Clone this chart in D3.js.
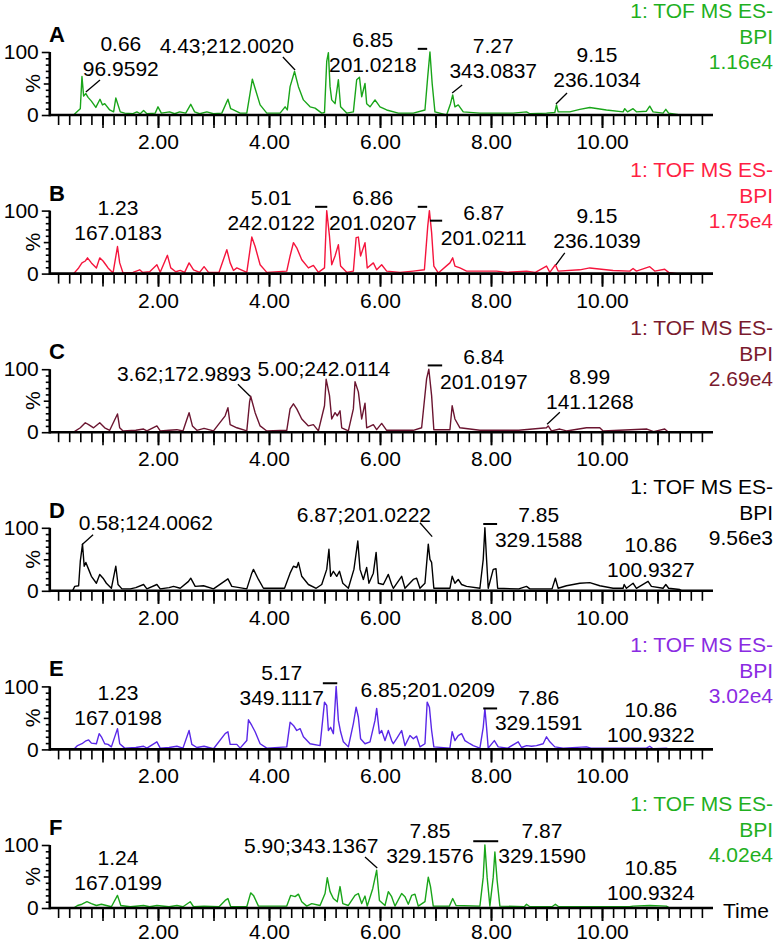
<!DOCTYPE html>
<html><head><meta charset="utf-8">
<script src="https://cdn.jsdelivr.net/npm/d3@7"></script>
<style>
body{margin:0;background:#fff}
svg{display:block}
text{font-family:"Liberation Sans",Arial,Helvetica,sans-serif}
</style>
</head><body>
<svg id="chart" width="783" height="944"></svg>
<script>
// ---------- data ----------
const panelIds = ["A","B","C","D","E","F"];
const intensities = ["1.16e4","1.75e4","2.69e4","9.56e3","3.02e4","4.02e4"];
const lineColors = ["#19a519","#f5143c","#6b1530","#000000","#5a28e8","#19a519"];
const titleColors = ["#1fb01f","#ff1f44","#7a1a2e","#000000","#8a2be2","#1fb01f"];
const titleLines = ["1: TOF MS ES-","BPI"];
const xTickLabels = [2,4,6,8,10];
const yTickLabels = [0,100];

const traceA = [[0.05,0],[0.48,0],[0.55,6],[0.6,10],[0.63,61],[0.66,30],[0.70,34],[0.74,28],[0.8,22],[0.88,12],[0.955,25],[1.0,16],[1.04,18],[1.13,8],[1.2,5],[1.24,27],[1.32,5],[1.4,3],[1.55,2],[1.62,5],[1.68,2],[1.74,7],[1.8,2],[1.95,3],[2.0,13],[2.06,3],[2.21,5],[2.3,2],[2.39,5],[2.5,3],[2.59,17],[2.66,5],[2.75,2],[2.88,5],[3.0,2],[3.15,3],[3.26,25],[3.31,10],[3.36,8],[3.48,3],[3.6,3],[3.66,35],[3.70,57],[3.75,42],[3.84,16],[3.96,3],[4.2,3],[4.29,13],[4.33,8],[4.38,45],[4.46,69],[4.53,45],[4.62,24],[4.74,13],[4.83,11],[4.95,3],[5.0,4],[5.04,85],[5.07,99],[5.1,45],[5.13,24],[5.19,18],[5.25,56],[5.29,13],[5.4,3],[5.52,5],[5.58,56],[5.63,60],[5.67,29],[5.73,50],[5.76,18],[5.82,13],[5.91,24],[6.0,13],[6.12,8],[6.33,3],[6.6,3],[6.81,8],[6.86,61],[6.9,100],[6.94,50],[6.99,5],[7.2,0],[7.27,18],[7.31,32],[7.35,13],[7.41,16],[7.50,5],[7.8,3],[8.4,3],[8.64,5],[8.7,2],[9.0,3],[9.15,4],[9.18,16],[9.21,5],[9.42,5],[9.6,9],[9.78,12],[10.08,8],[10.38,5],[10.41,10],[10.46,5],[10.56,10],[10.62,5],[10.8,6],[10.86,14],[10.92,5],[11.1,3],[11.15,9],[11.2,3],[11.35,1],[11.4,0],[11.8,0]];
const traceB = [[0.05,0],[0.48,0],[0.57,9],[0.63,17],[0.69,20],[0.73,25],[0.8,17],[0.89,9],[0.95,25],[1.01,20],[1.06,14],[1.1,9],[1.19,1],[1.27,43],[1.31,17],[1.37,1],[1.55,2],[1.67,6],[1.72,2],[1.85,3],[1.98,14],[2.04,2],[2.17,29],[2.23,9],[2.32,3],[2.4,5],[2.48,2],[2.56,17],[2.64,6],[2.75,2],[2.83,11],[2.91,2],[3.1,2],[3.24,38],[3.30,17],[3.36,5],[3.42,9],[3.6,2],[3.65,33],[3.69,58],[3.75,43],[3.84,14],[3.96,2],[4.32,4],[4.38,28],[4.44,49],[4.5,41],[4.59,22],[4.71,9],[4.8,13],[4.89,2],[5.0,9],[5.04,100],[5.09,59],[5.13,14],[5.19,28],[5.25,46],[5.29,12],[5.4,2],[5.52,4],[5.57,57],[5.61,58],[5.65,28],[5.73,49],[5.77,9],[5.88,17],[5.94,6],[6.03,14],[6.12,4],[6.36,2],[6.6,4],[6.8,6],[6.86,75],[6.89,100],[6.93,65],[6.97,12],[7.05,1],[7.26,17],[7.31,25],[7.35,12],[7.44,9],[7.56,4],[8.1,4],[8.3,2],[8.64,4],[8.8,2],[9.0,12],[9.06,2],[9.16,14],[9.21,4],[9.6,6],[9.78,9],[10.2,5],[10.5,4],[10.56,8],[10.62,4],[10.86,11],[10.95,4],[11.13,7],[11.2,2],[11.35,0],[11.8,0]];
const traceC = [[0.05,0],[0.48,0],[0.6,7],[0.69,15],[0.75,12],[0.84,7],[0.95,15],[1.04,7],[1.13,3],[1.27,29],[1.31,7],[1.37,2],[1.6,3],[1.74,5],[1.8,2],[1.98,10],[2.04,2],[2.2,3],[2.34,4],[2.45,2],[2.56,31],[2.62,10],[2.7,3],[2.83,6],[3.0,2],[3.21,26],[3.26,39],[3.30,12],[3.42,7],[3.6,2],[3.65,48],[3.67,57],[3.75,31],[3.84,10],[3.96,2],[4.32,3],[4.38,37],[4.44,45],[4.5,37],[4.59,21],[4.71,10],[4.8,12],[4.89,2],[5.0,42],[5.03,84],[5.09,58],[5.13,21],[5.19,31],[5.23,26],[5.28,34],[5.31,7],[5.43,2],[5.52,37],[5.55,80],[5.61,64],[5.67,21],[5.73,46],[5.76,7],[5.88,12],[5.94,4],[6.03,14],[6.12,3],[6.6,3],[6.75,7],[6.84,85],[6.88,100],[6.93,58],[6.97,4],[7.26,4],[7.30,42],[7.35,21],[7.44,7],[7.8,3],[8.5,3],[9.0,7],[9.03,10],[9.09,2],[9.24,5],[9.36,2],[9.72,7],[9.96,7],[10.02,2],[10.81,5],[10.93,1],[11.13,5],[11.2,0],[11.8,0]];
const traceD = [[0.05,0],[0.46,0],[0.5,7],[0.57,8],[0.6,47],[0.64,74],[0.67,39],[0.70,45],[0.75,34],[0.80,23],[0.89,12],[0.95,26],[1.01,20],[1.07,12],[1.16,4],[1.24,39],[1.28,10],[1.35,3],[1.5,3],[1.6,5],[1.74,10],[1.8,3],[1.98,10],[2.04,3],[2.2,5],[2.28,7],[2.4,4],[2.55,15],[2.59,20],[2.67,7],[2.82,8],[3.0,3],[3.26,19],[3.33,7],[3.6,3],[3.69,28],[3.72,34],[3.81,18],[3.9,4],[4.28,4],[4.38,28],[4.44,39],[4.5,37],[4.53,45],[4.59,23],[4.71,10],[4.85,4],[4.95,10],[5.04,34],[5.08,66],[5.11,23],[5.16,31],[5.22,23],[5.27,31],[5.33,12],[5.43,4],[5.53,34],[5.60,79],[5.64,34],[5.70,18],[5.76,37],[5.8,12],[5.88,28],[5.93,61],[5.97,12],[6.06,10],[6.15,26],[6.21,10],[6.24,4],[6.39,23],[6.45,4],[6.6,18],[6.66,20],[6.72,4],[6.81,12],[6.87,74],[6.9,50],[6.93,45],[6.97,4],[7.26,4],[7.30,23],[7.35,12],[7.41,18],[7.47,10],[7.56,7],[7.80,4],[7.86,50],[7.89,100],[7.92,50],[7.95,4],[8.04,34],[8.09,35],[8.12,4],[8.5,3],[8.64,7],[8.7,3],[9.1,3],[9.16,20],[9.21,4],[9.36,8],[9.6,12],[9.78,13],[9.96,8],[10.2,4],[10.38,4],[10.40,10],[10.44,4],[10.56,12],[10.62,4],[10.83,15],[10.89,7],[11.1,4],[11.15,10],[11.2,4],[11.4,2],[11.44,0],[11.8,0]];
const traceE = [[0.05,0],[0.48,0],[0.55,6],[0.63,9],[0.69,13],[0.75,15],[0.8,10],[0.89,9],[0.94,25],[0.98,20],[1.04,9],[1.1,8],[1.16,4],[1.27,33],[1.31,9],[1.4,2],[1.6,3],[1.74,5],[1.8,2],[1.98,12],[2.04,2],[2.2,3],[2.34,5],[2.45,2],[2.56,30],[2.61,8],[2.7,3],[2.83,5],[3.0,1],[3.21,25],[3.26,28],[3.30,8],[3.42,8],[3.48,2],[3.6,14],[3.63,47],[3.69,38],[3.75,28],[3.84,9],[3.96,2],[4.32,4],[4.38,43],[4.44,38],[4.5,30],[4.56,33],[4.62,20],[4.74,9],[4.92,6],[5.0,75],[5.04,70],[5.07,30],[5.11,35],[5.16,25],[5.21,100],[5.25,46],[5.29,28],[5.34,12],[5.43,4],[5.52,41],[5.57,67],[5.61,51],[5.65,17],[5.73,9],[5.82,12],[5.91,46],[5.94,65],[5.99,25],[6.03,30],[6.09,14],[6.15,30],[6.21,14],[6.24,9],[6.3,17],[6.39,30],[6.45,6],[6.54,22],[6.6,17],[6.66,21],[6.72,4],[6.81,9],[6.85,75],[6.89,67],[6.93,30],[6.97,4],[7.26,2],[7.30,28],[7.35,14],[7.41,22],[7.47,25],[7.53,14],[7.62,9],[7.68,6],[7.80,2],[7.86,35],[7.89,65],[7.92,35],[7.95,2],[8.06,14],[8.13,4],[8.3,2],[8.49,12],[8.55,3],[8.64,6],[8.73,5],[8.82,6],[8.94,9],[9.0,20],[9.06,12],[9.15,4],[9.30,2],[9.72,4],[9.8,2],[10.8,2],[10.86,5],[10.92,1],[11.16,2],[11.22,0],[11.8,0]];
const traceF = [[0.05,0],[0.48,0],[0.55,4],[0.63,6],[0.72,10],[0.80,7],[0.89,4],[0.98,6],[1.07,4],[1.16,2],[1.27,20],[1.33,4],[1.5,2],[1.74,4],[1.85,2],[1.98,4],[2.2,2],[2.34,4],[2.45,2],[2.58,10],[2.64,2],[2.83,3],[3.1,2],[3.21,12],[3.26,15],[3.31,2],[3.6,2],[3.67,24],[3.72,20],[3.81,3],[4.32,3],[4.39,20],[4.47,18],[4.53,22],[4.59,10],[4.68,3],[4.77,7],[4.92,4],[5.01,23],[5.05,48],[5.10,26],[5.16,15],[5.23,10],[5.28,34],[5.33,7],[5.43,4],[5.55,20],[5.61,23],[5.67,7],[5.73,19],[5.77,3],[5.87,31],[5.94,60],[5.99,12],[6.09,4],[6.15,26],[6.21,18],[6.27,3],[6.39,23],[6.45,18],[6.51,6],[6.57,20],[6.63,22],[6.69,3],[6.81,10],[6.87,49],[6.91,34],[6.96,3],[7.25,3],[7.31,15],[7.37,4],[7.80,3],[7.86,49],[7.89,100],[7.93,49],[7.98,3],[8.04,49],[8.07,89],[8.11,44],[8.16,3],[8.6,2],[8.64,6],[8.7,2],[9.1,2],[9.16,6],[9.22,2],[10.5,2],[10.56,3],[10.86,4],[11.16,3],[11.22,0],[11.8,0]];

// peak annotations: time of label centre, % of first baseline, text lines
const labelsA = [{t:1.33,p:101.6,lines:["0.66","96.9592"]},{t:3.24,p:98.4,lines:["4.43;212.0020"]},{t:5.87,p:108,lines:["6.85","201.0218"]},{t:8.04,p:98.4,lines:["7.27","343.0837"]},{t:9.91,p:84,lines:["9.15","236.1034"]}];
const labelsB = [{t:1.28,p:93.7,lines:["1.23","167.0183"]},{t:4.04,p:109.5,lines:["5.01","242.0122"]},{t:5.87,p:109.5,lines:["6.86","201.0207"]},{t:7.87,p:85.7,lines:["6.87","201.0211"]},{t:9.91,p:81,lines:["9.15","236.1039"]}];
const labelsC = [{t:2.47,p:81,lines:["3.62;172.9893"]},{t:4.99,p:88.9,lines:["5.00;242.0114"]},{t:7.87,p:108,lines:["6.84","201.0197"]},{t:9.78,p:76,lines:["8.99","141.1268"]}];
const labelsD = [{t:1.78,p:96.8,lines:["0.58;124.0062"]},{t:5.71,p:109.5,lines:["6.87;201.0222"]},{t:8.86,p:109.5,lines:["7.85","329.1588"]},{t:10.88,p:62,lines:["10.86","100.9327"]}];
const labelsE = [{t:1.28,p:77.8,lines:["1.23","167.0198"]},{t:4.23,p:109.5,lines:["5.17","349.1117"]},{t:6.86,p:82.5,lines:["6.85;201.0209"]},{t:8.86,p:70,lines:["7.86","329.1591"]},{t:10.88,p:51,lines:["10.86","100.9322"]}];
const labelsF = [{t:1.28,p:68,lines:["1.24","167.0199"]},{t:4.76,p:87,lines:["5.90;343.1367"]},{t:6.90,p:111,lines:["7.85","329.1576"]},{t:8.92,p:111,lines:["7.87","329.1590"]},{t:10.88,p:52,lines:["10.85","100.9324"]}];

// leader lines [t1,%1,t2,%2]
const leadersA = [[0.70,36.5,0.955,55.5],[4.47,71.4,4.25,92],[7.30,35,7.48,47.6],[9.17,17.5,9.37,35]];
const leadersB = [[9.17,14,9.33,33]];
const leadersC = [[3.66,57,3.44,76],[9.01,12.7,9.24,31.7]];
const leadersD = [[0.63,73,0.83,89],[6.94,86,6.72,108]];
const leadersE = [];
const leadersF = [[5.95,63.5,5.73,81]];

// peak-top markers [t1,t2,%]
const barsA = [[6.68,6.85,105]];
const barsB = [[4.83,5.05,106],[6.68,6.85,106],[6.90,7.12,84]];
const barsC = [[6.86,7.12,106]];
const barsD = [[7.86,8.11,106]];
const barsE = [[4.97,5.23,105],[7.86,8.11,65]];
const barsF = [[7.68,8.13,106]];

const traces = [traceA,traceB,traceC,traceD,traceE,traceF];
const labels = [labelsA,labelsB,labelsC,labelsD,labelsE,labelsF];
const leaders = [leadersA,leadersB,leadersC,leadersD,leadersE,leadersF];
const bars = [barsA,barsB,barsC,barsD,barsE,barsF];

// ---------- drawing ----------
const svg = d3.select("#chart");
const FS = 21;
const panelStep = 158.6;
const x = d3.scaleLinear().domain([0,12]).range([47,713]);
const y = d3.scaleLinear().domain([0,100]).range([115,52]);
const line = d3.line().x(d=>x(d[0])).y(d=>y(d[1]));

panelIds.forEach((id,i)=>{
  const g = svg.append("g").attr("transform",`translate(0,${(i*panelStep).toFixed(1)})`);
  const last = i===panelIds.length-1;

  // trace
  g.append("path").datum(traces[i]).attr("d",line)
    .attr("fill","none").attr("stroke",lineColors[i]).attr("stroke-width",1.4)
    .attr("stroke-linejoin","round");

  // x axis: minor, major, labelled
  const minor = g.append("g").attr("transform",`translate(0,${y(0)})`)
    .call(d3.axisBottom(x).tickValues(d3.range(1,60).map(k=>k*0.2)).tickSize(10).tickFormat(""));
  const major = g.append("g").attr("transform",`translate(0,${y(0)})`)
    .call(d3.axisBottom(x).tickValues(d3.range(1,12)).tickSize(13).tickFormat(""));
  const lab = g.append("g").attr("transform",`translate(0,${y(0)})`)
    .call(d3.axisBottom(x).tickValues(xTickLabels).tickSize(13).tickPadding(last?3:6).tickFormat(d3.format(".2f")));
  [minor,major,lab].forEach(a=>{
    a.select(".domain").remove();
    a.selectAll("line").attr("stroke","#000").attr("stroke-width",1.6);
    a.selectAll("text").attr("font-size",FS).attr("fill","#000").attr("font-family",null);
  });
  g.append("line").attr("x1",x(0.05)).attr("x2",x(12)).attr("y1",y(0)).attr("y2",y(0))
    .attr("stroke","#000").attr("stroke-width",2.6);

  // y axis
  const ax0 = x(0.05);
  const yMinor = g.append("g").attr("transform",`translate(${ax0},0)`)
    .call(d3.axisLeft(y).tickValues([10,20,30,40,60,70,80,90]).tickSize(4).tickFormat(""));
  const yMid = g.append("g").attr("transform",`translate(${ax0},0)`)
    .call(d3.axisLeft(y).tickValues([50]).tickSize(6).tickFormat(""));
  const yLab = g.append("g").attr("transform",`translate(${ax0},0)`)
    .call(d3.axisLeft(y).tickValues(yTickLabels).tickSize(8).tickPadding(3).tickFormat(d3.format("d")));
  [yMinor,yMid,yLab].forEach(a=>{
    a.select(".domain").remove();
    a.selectAll("line").attr("stroke","#000").attr("stroke-width",1.6);
    a.selectAll("text").attr("font-size",FS).attr("fill","#000").attr("font-family",null);
  });
  g.append("line").attr("x1",ax0).attr("x2",ax0).attr("y1",y(0)+1.3).attr("y2",y(100))
    .attr("stroke","#000").attr("stroke-width",2.6);
  g.append("text").attr("transform",`translate(40,${y(50)}) rotate(-90)`)
    .attr("text-anchor","middle").attr("font-size",FS).text("%");

  // panel letter
  g.append("text").attr("x",49).attr("y",42).attr("font-size",22).attr("font-weight","bold").text(id);

  // title block
  const tl = titleLines.concat([intensities[i]]);
  const tby = [18,44,69];
  tl.forEach((s,k)=>{
    g.append("text").attr("x",773).attr("y",tby[k]).attr("text-anchor","end")
      .attr("font-size",FS).attr("fill",titleColors[i]).text(s);
  });

  // annotations
  labels[i].forEach(l=>{
    l.lines.forEach((s,k)=>{
      g.append("text").attr("x",x(l.t)).attr("y",y(l.p)+k*25).attr("text-anchor","middle")
        .attr("font-size",FS).attr("fill","#000").text(s);
    });
  });
  leaders[i].forEach(d=>{
    g.append("line").attr("x1",x(d[0])).attr("y1",y(d[1])).attr("x2",x(d[2])).attr("y2",y(d[3]))
      .attr("stroke","#000").attr("stroke-width",1.3);
  });
  bars[i].forEach(d=>{
    g.append("line").attr("x1",x(d[0])).attr("x2",x(d[1])).attr("y1",y(d[2])).attr("y2",y(d[2]))
      .attr("stroke","#000").attr("stroke-width",2);
  });

  if(last){
    g.append("text").attr("x",723).attr("y",y(0)+10).attr("font-size",FS).text("Time");
  }
});
</script>
</body></html>
